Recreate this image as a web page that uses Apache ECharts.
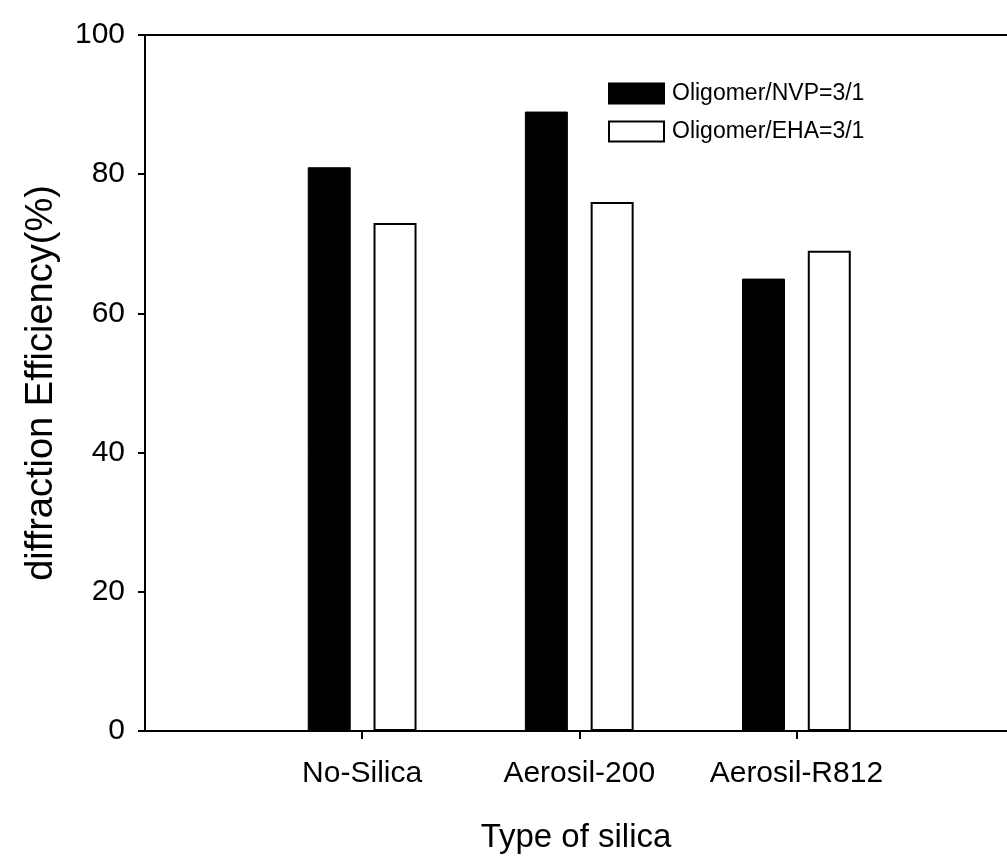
<!DOCTYPE html>
<html>
<head>
<meta charset="utf-8">
<script src="https://cdn.jsdelivr.net/npm/echarts@6/dist/echarts.min.js"></script>
<style>html,body{margin:0;padding:0;background:#fff;}#c{width:1007px;height:863px;}</style>
</head>
<body>
<div id="c"></div>
<script>
const categories = ['No-Silica', 'Aerosil-200', 'Aerosil-R812'];
const categoryPositions = [1, 2, 3];
const nvpValues = [81, 89, 65];
const ehaValues = [73, 76, 69];
const seriesNames = ['Oligomer/NVP=3/1', 'Oligomer/EHA=3/1'];
const yTicks = [0, 20, 40, 60, 80, 100];

const FONT = '"Liberation Sans", Arial, Helvetica, sans-serif';
const chart = echarts.init(document.getElementById('c'), null, {renderer: 'canvas'});
const pair = (vals) => vals.map((v, i) => [categoryPositions[i], v]);

chart.setOption({
  animation: false,
  backgroundColor: '#fff',
  textStyle: {fontFamily: FONT, color: '#000'},
  grid: {left: 145, top: 35, right: 0, bottom: 132},
  legend: {
    orient: 'vertical', left: 603, top: 77,
    itemWidth: 55, itemHeight: 20, itemGap: 15,
    icon: 'rect',
    textStyle: {fontFamily: FONT, fontSize: 23, color: '#000', padding: [0, 0, 0, 3]},
    data: seriesNames
  },
  xAxis: [{
    type: 'value', min: 0, max: 3.97, interval: 1,
    splitLine: {show: false},
    axisLine: {lineStyle: {color: '#000', width: 2}},
    axisTick: {show: true, length: 8, lineStyle: {color: '#000', width: 2}, customValues: categoryPositions},
    axisLabel: {
      customValues: categoryPositions,
      fontFamily: FONT, fontSize: 30, color: '#000', margin: 28,
      formatter: (v) => categories[categoryPositions.indexOf(v)] || ''
    },
    name: 'Type of silica', nameLocation: 'middle', nameGap: 90,
    nameTextStyle: {fontFamily: FONT, fontSize: 33, color: '#000'}
  }, {
    type: 'value', position: 'top', min: 0, max: 3.97,
    splitLine: {show: false},
    axisLine: {show: true, lineStyle: {color: '#000', width: 2}},
    axisTick: {show: false},
    axisLabel: {show: false}
  }],
  yAxis: {
    type: 'value', min: yTicks[0], max: yTicks[yTicks.length - 1], interval: 20,
    splitLine: {show: false},
    axisLine: {lineStyle: {color: '#000', width: 2}},
    axisTick: {show: true, length: 7, lineStyle: {color: '#000', width: 2}},
    axisLabel: {fontFamily: FONT, fontSize: 30, color: '#000', margin: 20},
    name: 'diffraction Efficiency(%)', nameLocation: 'middle', nameGap: 84,
    nameTextStyle: {fontFamily: FONT, fontSize: 38, color: '#000'}
  },
  series: [
    {
      name: seriesNames[0], type: 'bar', data: pair(nvpValues),
      barWidth: 43, barGap: '53%',
      itemStyle: {color: '#000', borderColor: '#000', borderWidth: 1}
    },
    {
      name: seriesNames[1], type: 'bar', data: pair(ehaValues),
      barWidth: 43, barGap: '53%',
      itemStyle: {color: '#fff', borderColor: '#000', borderWidth: 2}
    }
  ]
});
</script>
</body>
</html>
